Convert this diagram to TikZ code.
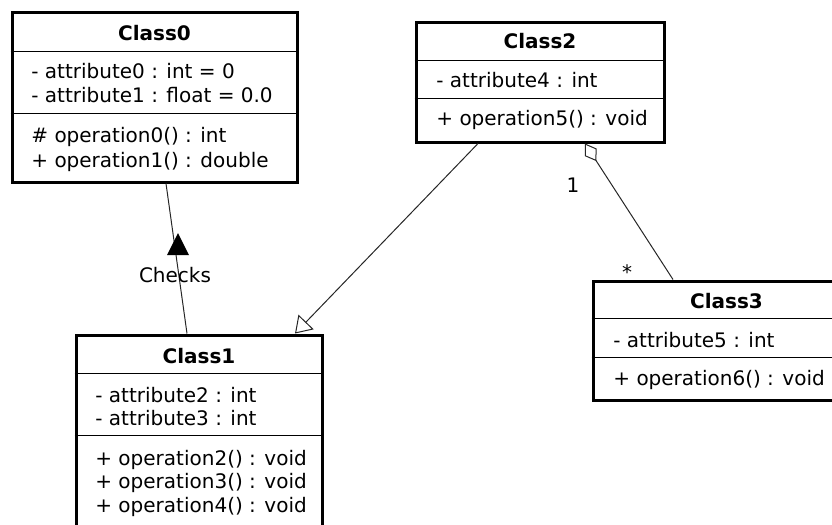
\documentclass[tikz,border=0pt]{standalone}
\usepackage{fontspec}
\setmainfont{DejaVu Sans}
\usetikzlibrary{arrows.meta}
\usetikzlibrary{calc}

\tikzset{
  classbox/.style={draw, line width=1.5pt, inner sep=0pt, fill=white},
  classname/.style={anchor=base, inner sep=0pt, font=\bfseries},
  member/.style={anchor=base west, inner sep=0pt},
  divider/.style={line width=0.5pt},
  assoc/.style={line width=0.5pt, draw=black!85},
}

\begin{document}
\begin{tikzpicture}[x=0.5pt, y=-0.5pt]
    \useasboundingbox (0,0) rectangle (832,525);

    % the four classes
    \node[classbox, minimum width=142.5pt, minimum height=85pt] (c0) at (154.5,97) {};
    \node[classbox, minimum width=124pt, minimum height=60pt] (c2) at (540,82) {};
    \node[classbox, minimum width=123pt, minimum height=112.5pt] (c1) at (199,447.5) {};
    \node[classbox, minimum width=133.5pt, minimum height=59.5pt] (c3) at (726.5,340.5) {};

    \draw[divider] (c0.west |- 0,51) -- (c0.east |- 0,51);
    \draw[divider] (c0.west |- 0,113) -- (c0.east |- 0,113);
    \draw[divider] (c2.west |- 0,60) -- (c2.east |- 0,60);
    \draw[divider] (c2.west |- 0,98) -- (c2.east |- 0,98);
    \draw[divider] (c1.west |- 0,373) -- (c1.east |- 0,373);
    \draw[divider] (c1.west |- 0,435) -- (c1.east |- 0,435);
    \draw[divider] (c3.west |- 0,318) -- (c3.east |- 0,318);
    \draw[divider] (c3.west |- 0,357) -- (c3.east |- 0,357);

    \node[classname] (c0name) at (c0.north |- 0,40) {Class0};
    \node[member] (c0a0) at (31,78) {- attribute0 : int = 0};
    \node[member] (c0a1) at (31,102) {- attribute1 : float = 0.0};
    \node[member] (c0o0) at (31,142) {\# operation0() : int};
    \node[member] (c0o1) at (31,167) {+ operation1() : double};

    \node[classname] (c2name) at (c2.north |- 0,48) {Class2};
    \node[member] (c2a4) at (436,87) {- attribute4 : int};
    \node[member] (c2o5) at (436,125) {+ operation5() : void};

    \node[classname] (c1name) at (c1.north |- 0,363) {Class1};
    \node[member] (c1a2) at (95,402) {- attribute2 : int};
    \node[member] (c1a3) at (95,425) {- attribute3 : int};
    \node[member] (c1o2) at (95,465) {+ operation2() : void};
    \node[member] (c1o3) at (95,488) {+ operation3() : void};
    \node[member] (c1o4) at (95,512) {+ operation4() : void};

    \node[classname] (c3name) at (c3.north |- 0,308) {Class3};
    \node[member] (c3a5) at (613,347) {- attribute5 : int};
    \node[member] (c3o6) at (613,385) {+ operation6() : void};

    % connector ends
    \coordinate (c0b) at ($(c0.south)+(11.5,0)$);
    \coordinate (c1t) at ($(c1.north)+(-12,0)$);
    \coordinate (c1g) at ($(c1.north)+(96,0)$);
    \coordinate (c2b) at ($(c2.south)+(-62,0)$);
    \coordinate (c2d) at ($(c2.south)+(45,0)$);
    \coordinate (c3t) at ($(c3.north)+(-53.5,0)$);

    \draw[assoc] (c1t) -- (c0b);
    \node[anchor=base, inner sep=0pt] (checks) at (175,282) {Checks};
    \fill (178,233) -- (167,255) -- (189,255) -- cycle;

    \draw[assoc, -{Triangle[open, length=8pt, width=10.5pt]}] (c2b) -- (c1g);

    \draw[assoc, {Diamond[open, length=10.5pt, width=7pt]}-] (c2d) -- (c3t);
    \node[anchor=base, inner sep=0pt] (mone) at (573,192) {1};
    \node[anchor=base, inner sep=0pt] (many) at (627,279) {*};
\end{tikzpicture}
\end{document}
